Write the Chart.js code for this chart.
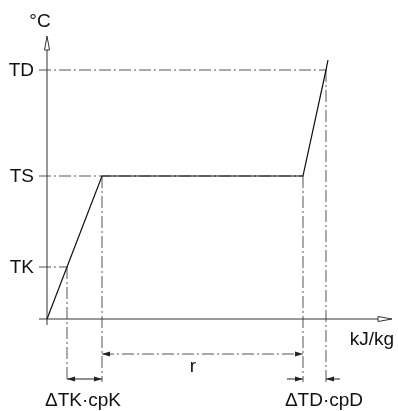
<!DOCTYPE html>
<html>
<head>
<meta charset="utf-8">
<script src="https://cdn.jsdelivr.net/npm/chart.js@4"></script>
<style>
  html, body { margin: 0; padding: 0; background: #fff; }
  canvas { display: block; }
</style>
</head>
<body>
<canvas id="diagramme" width="398" height="411"></canvas>
<script>
// Chauffage d'un liquide : T en fonction de l'enthalpie (kJ/kg)
const levelNames = ["TK", "TS", "TD"];
const levelTemps = [52, 143, 249];          // niveaux de température
const curveX = [0, 20, 55, 256, 279, 281];  // kJ/kg (unités du schéma)
const curveT = [0, 52, 143, 143, 249, 259]; // °C
const dimLabels = ["ΔTK·cpK", "r", "ΔTD·cpD"];
const axisLabels = ["°C", "kJ/kg"];

const guideBottom = -63;  // fin des lignes de rappel
const rLevel = -35;       // cote "r"
const dimLevel = -60;     // cotes ΔT·cp
const leftStart = -8;     // départ des traits à gauche de l'axe

const dashDot = [12, 3, 2, 3];
const grey = "#555";

const seg = (x1, y1, x2, y2) => [{ x: x1, y: y1 }, { x: x2, y: y2 }];
const line = (data, color, dash, width) => ({
  data: data,
  showLine: true,
  borderColor: color,
  borderWidth: width || 1,
  borderDash: dash || [],
  pointRadius: 0,
  tension: 0,
  fill: false
});

const datasets = [
  // courbe
  line(curveX.map((x, i) => ({ x: x, y: curveT[i] })), "#111", [], 1.2),
  // axes
  line(seg(0, -6, 0, 270), "#333"),
  line(seg(leftStart, 0, 340, 0), "#333"),
  // lignes horizontales TK, TS, TD
  line(seg(leftStart, levelTemps[0], curveX[1], levelTemps[0]), grey, dashDot),
  line(seg(leftStart, levelTemps[1], curveX[3], levelTemps[1]), grey, dashDot),
  line(seg(leftStart, levelTemps[2], curveX[4], levelTemps[2]), grey, dashDot),
  // lignes de rappel verticales
  line(seg(curveX[1], levelTemps[0], curveX[1], guideBottom), grey, dashDot),
  line(seg(curveX[2], levelTemps[1], curveX[2], guideBottom), grey, dashDot),
  line(seg(curveX[3], levelTemps[1], curveX[3], guideBottom), grey, dashDot),
  line(seg(curveX[4], levelTemps[2], curveX[4], guideBottom), grey, dashDot),
  // cote r
  line(seg(curveX[2], rLevel, curveX[3], rLevel), grey, dashDot),
  // cotes ΔT·cp
  line(seg(curveX[1], dimLevel, curveX[2], dimLevel), "#222"),
  line(seg(curveX[3] - 16, dimLevel, curveX[3], dimLevel), "#222"),
  line(seg(curveX[4] + 14, dimLevel, curveX[4], dimLevel), "#222")
];

const annotations = {
  id: "annotations",
  afterDatasetsDraw: chart => {
    const ctx = chart.ctx;
    const sx = chart.scales.x;
    const sy = chart.scales.y;
    const px = v => sx.getPixelForValue(v);
    const py = v => sy.getPixelForValue(v);

    // flèche, pointe en (x, y), direction dx/dy
    function head(x, y, dx, dy, len, half, filled, color) {
      const ax = x - dx * len, ay = y - dy * len;
      ctx.beginPath();
      ctx.moveTo(x, y);
      ctx.lineTo(ax - dy * half, ay + dx * half);
      ctx.lineTo(ax + dy * half, ay - dx * half);
      ctx.closePath();
      ctx.lineWidth = 1;
      if (filled) {
        ctx.fillStyle = color;
        ctx.fill();
      } else {
        ctx.fillStyle = "#fff";
        ctx.fill();
        ctx.strokeStyle = color;
        ctx.stroke();
      }
    }

    ctx.save();
    // flèches des axes (ouvertes)
    head(px(0), py(283), 0, -1, 14, 2.5, false, "#333");
    head(px(345), py(0), 1, 0, 14, 2.5, false, "#333");

    // cote r
    head(px(curveX[2]), py(rLevel), -1, 0, 8, 2.5, true, "#222");
    head(px(curveX[3]), py(rLevel), 1, 0, 8, 2.5, true, "#222");
    // cote ΔTK·cpK
    head(px(curveX[1]), py(dimLevel), -1, 0, 8, 2.5, true, "#222");
    head(px(curveX[2]), py(dimLevel), 1, 0, 8, 2.5, true, "#222");
    // cote ΔTD·cpD
    head(px(curveX[3]), py(dimLevel), 1, 0, 8, 2.5, true, "#222");
    head(px(curveX[4]), py(dimLevel), -1, 0, 8, 2.5, true, "#222");

    // textes
    ctx.fillStyle = "#111";
    ctx.font = "19px 'Liberation Sans', Arial, sans-serif";
    ctx.textAlign = "right";
    ctx.textBaseline = "middle";
    levelNames.forEach((name, i) => {
      ctx.fillText(name, px(-13), py(levelTemps[i]) + 1);
    });

    ctx.textAlign = "center";
    ctx.textBaseline = "alphabetic";
    ctx.fillText(axisLabels[0], px(-7), py(292));
    ctx.fillText(axisLabels[1], px(325), py(-26));
    ctx.fillText(dimLabels[0], px(36), py(-87));
    ctx.fillText(dimLabels[1], px(146), py(-53));
    ctx.fillText(dimLabels[2], px(277), py(-87));
    ctx.restore();
  }
};

new Chart(document.getElementById("diagramme"), {
  type: "scatter",
  data: { datasets: datasets },
  options: {
    responsive: false,
    animation: false,
    events: [],
    layout: { padding: 0 },
    scales: {
      x: { type: "linear", display: false, min: -47, max: 351 },
      y: { type: "linear", display: false, min: -92, max: 319 }
    },
    plugins: {
      legend: { display: false },
      tooltip: { enabled: false }
    }
  },
  plugins: [annotations]
});
</script>
</body>
</html>
